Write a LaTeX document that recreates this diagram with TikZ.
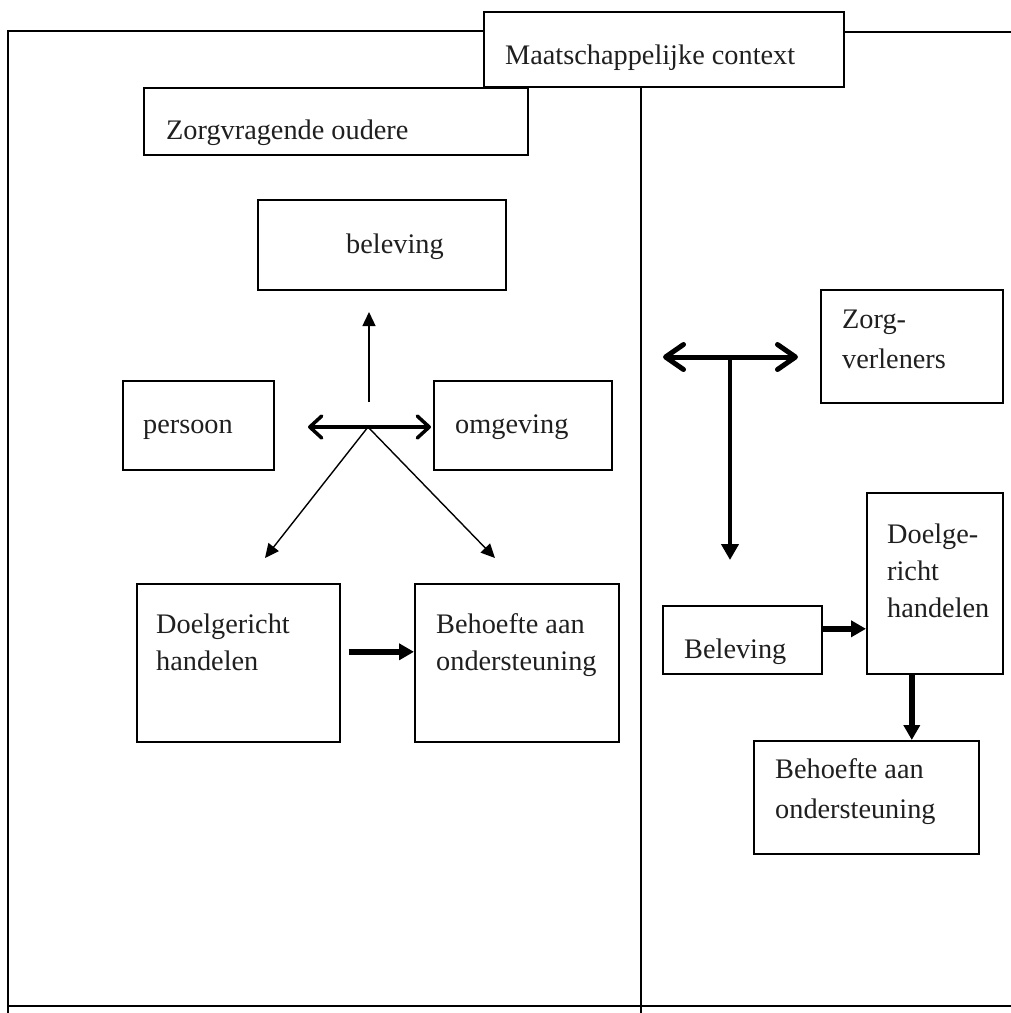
\documentclass[tikz,border=0pt]{standalone}
\usepackage{fontspec}
\setmainfont{Liberation Serif}
\usetikzlibrary{arrows.meta}
\begin{document}
\begin{tikzpicture}[x=1pt,y=-1pt,
  box/.style={draw,line width=1.6pt,inner sep=0pt,anchor=north west},
  lbl/.style={anchor=base west,inner sep=0pt,text=black!88,font=\fontsize{28.3}{34}\selectfont},
  framel/.style={line width=1.6pt},
  midl/.style={line width=1.2pt},
  thinarr/.style={line width=1.4pt,-{Triangle[length=14pt,width=13pt]}},
  thickarr/.style={line width=5.5pt,-{Triangle[length=15pt,width=16pt]}},
  vertarr/.style={line width=4.5pt,-{Triangle[length=16pt,width=17pt]}},
  dblA/.style={line width=3.5pt,{Straight Barb[length=12pt,width=22pt,round]}-{Straight Barb[length=12pt,width=22pt,round]}},
  dblB/.style={line width=5pt,{Straight Barb[length=18pt,width=25pt,round]}-{Straight Barb[length=18pt,width=25pt,round]}}]
\useasboundingbox (0,0) rectangle (1011,1013);

% boxes
\node[box,minimum width=360pt,minimum height=75pt] (ctx) at (483,11) {};
\node[box,minimum width=384pt,minimum height=67pt] (zorgvr) at (143,87) {};
\node[box,minimum width=248pt,minimum height=90pt] (bel) at (257,199) {};
\node[box,minimum width=151pt,minimum height=89pt] (pers) at (122,380) {};
\node[box,minimum width=178pt,minimum height=89pt] (omg) at (433,380) {};
\node[box,minimum width=203pt,minimum height=158pt] (doelL) at (136,583) {};
\node[box,minimum width=204pt,minimum height=158pt] (behL) at (414,583) {};
\node[box,minimum width=182pt,minimum height=113pt] (zv) at (820,289) {};
\node[box,minimum width=136pt,minimum height=181pt] (doelR) at (866,492) {};
\node[box,minimum width=159pt,minimum height=68pt] (belR) at (662,605) {};
\node[box,minimum width=225pt,minimum height=113pt] (behR) at (753,740) {};

% frame
\coordinate (fTL) at (8,31);
\coordinate (fBL) at (8,1013);
\coordinate (fTR) at (1011,32);
\coordinate (fB1) at (8,1006);
\coordinate (fB2) at (1011,1006);
\coordinate (fMB) at (641,1013);
\draw[framel] (fBL) -- (fTL) -- (fTL -| ctx.west);
\draw[framel] (ctx.east |- fTR) -- (fTR);
\draw[framel] (fB1) -- (fB2);
\draw[midl] (fMB |- ctx.south) -- (fMB);

% texts
\node[lbl] (tctx) at (505,64) {Maatschappelijke context};
\node[lbl] (tzorgvr) at (166,139) {Zorgvragende oudere};
\node[lbl] (tbel) at (346,253) {beleving};
\node[lbl] (tpers) at (143,433) {persoon};
\node[lbl] (tomg) at (455,433) {omgeving};
\node[lbl] (tdoelL1) at (156,633) {Doelgericht};
\node[lbl] (tdoelL2) at (156,670) {handelen};
\node[lbl] (tbehL1) at (436,633) {Behoefte aan};
\node[lbl] (tbehL2) at (436,670) {ondersteuning};
\node[lbl] (tzv1) at (842,328) {Zorg-};
\node[lbl] (tzv2) at (842,368) {verleners};
\node[lbl] (tdoelR1) at (887,543) {Doelge-};
\node[lbl] (tdoelR2) at (887,580) {richt};
\node[lbl] (tdoelR3) at (887,617) {handelen};
\node[lbl] (tbelR) at (684,658) {Beleving};
\node[lbl] (tbehR1) at (775,778) {Behoefte aan};
\node[lbl] (tbehR2) at (775,818) {ondersteuning};

% left hub
\coordinate (hub) at (368,427);
\coordinate (hubL) at (308,427);
\coordinate (hubR) at (431,427);
\coordinate (stubB) at (369,402);
\coordinate (stubT) at (369,312);
\coordinate (diagL) at (265,558);
\coordinate (diagR) at (495,558);
\draw[dblA] (hubL) -- (hubR);
\draw[thinarr] (stubB) -- (stubT);
\draw[thinarr] (hub) -- (diagL);
\draw[thinarr] (hub) -- (diagR);
\draw[thickarr,shorten <=8pt] ([yshift=11pt]doelL.east) -- ([yshift=11pt]behL.west);

% right T
\coordinate (tL) at (663,357);
\coordinate (tR) at (798,357);
\coordinate (tC) at (730,357);
\coordinate (tD) at (730,560);
\draw[dblB] (tL) -- (tR);
\draw[vertarr] (tC) -- (tD);
\draw[thickarr] ([yshift=11pt]belR.east) -- ([yshift=11pt]belR.east -| doelR.west);
\draw[thickarr] ([xshift=-23pt]doelR.south) -- ([xshift=-23pt]doelR.south |- behR.north);
\end{tikzpicture}
\end{document}
